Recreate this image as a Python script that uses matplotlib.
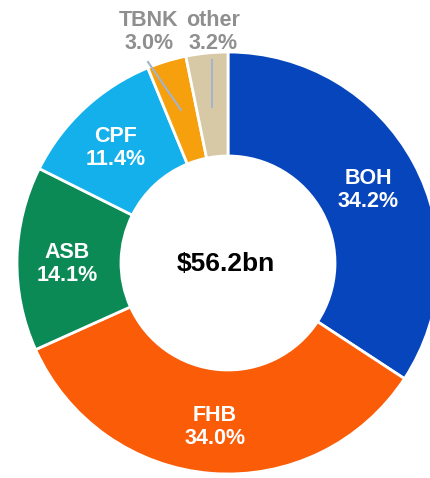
import matplotlib.pyplot as plt

plt.rcParams['font.family'] = ['Liberation Sans', 'DejaVu Sans']

# Market share data
names = ["BOH", "FHB", "ASB", "CPF", "TBNK", "other"]
shares = [34.2, 34.0, 14.1, 11.4, 3.0, 3.2]
colors = ["#0745BD", "#FA5C08", "#0B8A56", "#14B0EC", "#F5A00C", "#D7C9A6"]
total_label = "$56.2bn"

fig = plt.figure(figsize=(4.31, 4.78), dpi=100)
ax = fig.add_axes([0, 0, 1, 1])

cx, cy, R = 228, 263, 211
# y axis is inverted below, so startangle -90 is the top of the picture
# and counterclock=True runs clockwise on screen
wedges, _ = ax.pie(shares, colors=colors, startangle=-90, counterclock=True,
                   center=(cx, cy), radius=R, frame=True,
                   wedgeprops=dict(width=104, edgecolor="white", linewidth=2))
ax.set_xlim(0, 431)
ax.set_ylim(478, 0)
ax.set_aspect("equal")
ax.axis("off")

# Labels inside the big slices
inside = {"BOH": (368, 190), "FHB": (215, 427), "ASB": (67, 264), "CPF": (116, 148)}
for n, s in zip(names, shares):
    if n in inside:
        x, y = inside[n]
        ax.text(x, y, f"{n}\n{s:.1f}%", ha="center", va="center", color="white",
                fontsize=15.5, fontweight="bold", linespacing=1.15)

# Labels outside the small slices, with leader lines
outside = {"TBNK": (149, 32, (148, 62), (181, 110)),
           "other": (213, 32, (212, 60), (212, 107))}
for n, s in zip(names, shares):
    if n in outside:
        x, y, p0, p1 = outside[n]
        ax.text(x, y, f"{n}\n{s:.1f}%", ha="center", va="center", color="#8F8F8F",
                fontsize=15.5, fontweight="bold", linespacing=1.1)
        ax.plot([p0[0], p1[0]], [p0[1], p1[1]], color="#A3B4CC", linewidth=1.5)

ax.text(226, 264, total_label, ha="center", va="center", color="black",
        fontsize=19, fontweight="bold")

plt.savefig("out.png", dpi=100)
